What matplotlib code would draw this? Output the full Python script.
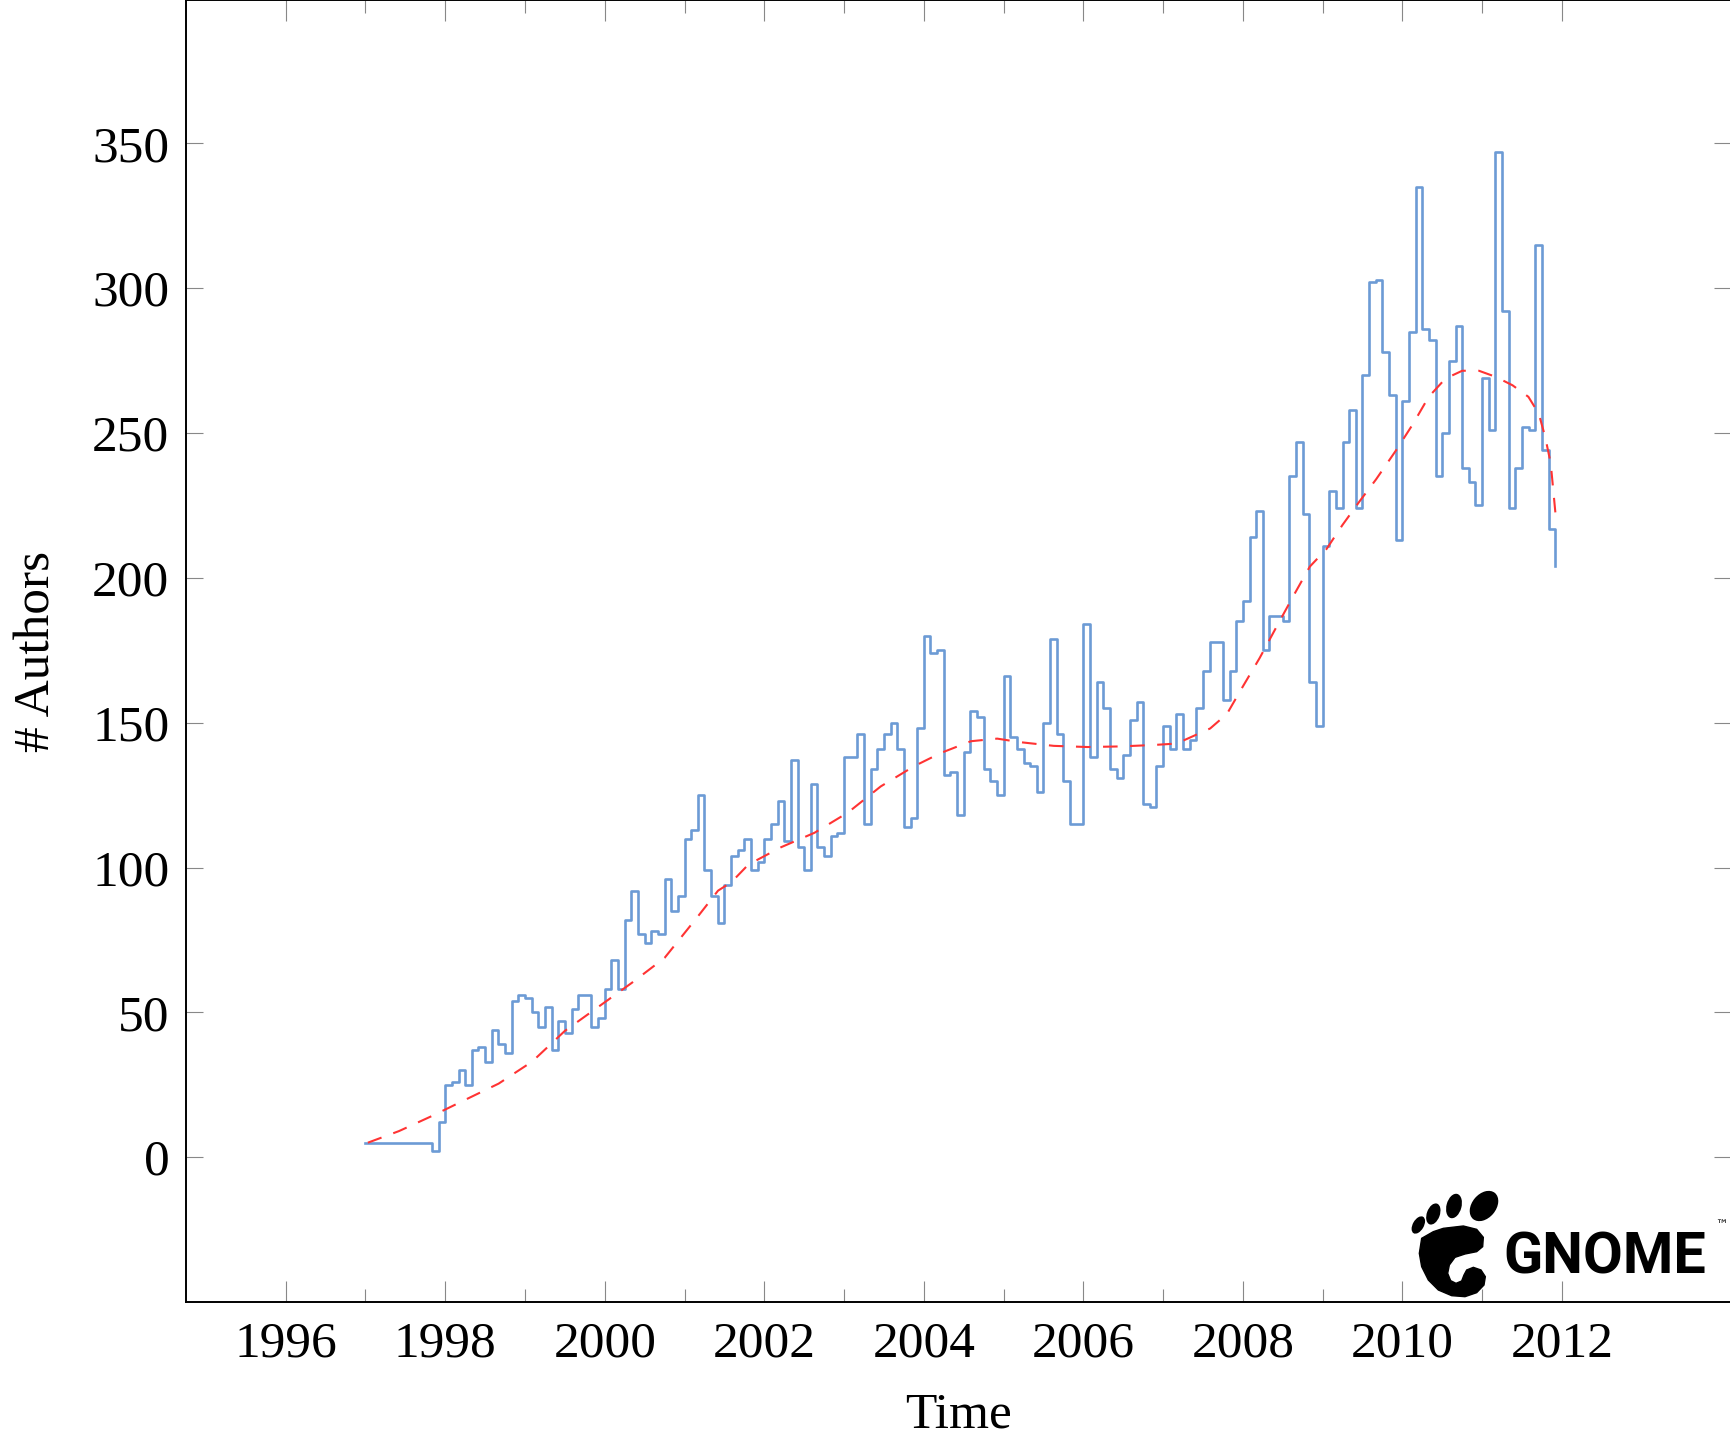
import matplotlib
matplotlib.use('Agg')
import matplotlib.pyplot as plt
from matplotlib.patches import Ellipse, Polygon
import numpy as np

# monthly number of active authors, Jan 1997 .. Dec 2011
authors = [
    5, 5, 5, 5, 5, 5, 5, 5, 5, 5, 2, 12,                    # 1997
    25, 26, 30, 25, 37, 38, 33, 44, 39, 36, 54, 56,         # 1998
    55, 50, 45, 52, 37, 47, 43, 51, 56, 56, 45, 48,         # 1999
    58, 68, 58, 82, 92, 77, 74, 78, 77, 96, 85, 90,         # 2000
    110, 113, 125, 99, 90, 81, 94, 104, 106, 110, 99, 102,  # 2001
    110, 115, 123, 109, 137, 107, 99, 129, 107, 104, 111, 112,  # 2002
    138, 138, 146, 115, 134, 141, 146, 150, 141, 114, 117, 148,  # 2003
    180, 174, 175, 132, 133, 118, 140, 154, 152, 134, 130, 125,  # 2004
    166, 145, 141, 136, 135, 126, 150, 179, 146, 130, 115, 115,  # 2005
    184, 138, 164, 155, 134, 131, 139, 151, 157, 122, 121, 135,  # 2006
    149, 141, 153, 141, 144, 155, 168, 178, 178, 158, 168, 185,  # 2007
    192, 214, 223, 175, 187, 187, 185, 235, 247, 222, 164, 149,  # 2008
    211, 230, 224, 247, 258, 224, 270, 302, 303, 278, 263, 213,  # 2009
    261, 285, 335, 286, 282, 235, 250, 275, 287, 238, 233, 225,  # 2010
    269, 251, 347, 292, 224, 238, 252, 251, 315, 244, 217, 204,  # 2011
]
start_year = 1997

# red dashed trend
trend_year = [1997.03, 1997.42, 1997.84, 1998.25, 1998.67, 1999.09, 1999.5,
              1999.92, 2000.34, 2000.75, 2001.17, 2001.42, 2001.59, 2001.8,
              2002.21, 2002.63, 2003.05, 2003.46, 2003.88, 2004.21, 2004.59,
              2004.92, 2005.2, 2005.63, 2006.05, 2006.46, 2006.88, 2007.17,
              2007.59, 2007.8, 2008.0, 2008.21, 2008.42, 2008.63, 2008.84,
              2009.05, 2009.25, 2009.46, 2009.67, 2009.92, 2010.13, 2010.33,
              2010.54, 2010.75, 2010.96, 2011.17, 2011.38, 2011.58, 2011.71,
              2011.79, 2011.86, 2011.92]
trend_val = [5, 9, 14.3, 19.8, 25.4, 33, 43.6,
             51.9, 60.2, 68.8, 83.2, 92, 95, 101,
             107, 112, 119, 128, 135, 139.5, 143.6,
             144.5, 143.3, 142, 141.6, 141.8, 142.3, 142.8,
             148, 153, 162.5, 172.3, 183, 193.6, 203.9,
             210, 218.3, 226.3, 234, 244, 253, 262.5,
             268.8, 271.5, 271.5, 269.4, 266.5, 262.5, 256.7,
             248.7, 239.5, 222]

major_years = list(range(1996, 2013, 2))
minor_years = list(range(1997, 2012, 2))
y_ticks = list(range(0, 351, 50))

W, H, DPI = 1731, 1437, 100

plt.rcParams['font.family'] = ['Liberation Serif', 'DejaVu Serif']
plt.rcParams['font.size'] = 37

fig = plt.figure(figsize=(W / DPI, H / DPI), dpi=DPI)
fig.patch.set_facecolor('white')
ax = fig.add_axes([186 / W, 135 / H, (W - 186) / W, 1 - 135 / H])

months = start_year + np.arange(len(authors)) / 12.0
ax.step(months, authors, where='post', color='#6c9bd5', linewidth=1.9)
ax.plot(trend_year, trend_val, color='#ff3333', linewidth=1.5, dashes=(7, 6))

ax.set_xlim(1994.75, 2014.12)
ax.set_ylim(-50, 399.5)

ax.set_xticks(major_years)
ax.set_xticks(minor_years, minor=True)
ax.set_yticks(y_ticks)

ax.tick_params(axis='x', which='major', direction='in', length=15, width=0.8,
               color='#888888', top=True, pad=14)
ax.tick_params(axis='x', which='minor', direction='in', length=9.5, width=0.8,
               color='#888888', top=True)
ax.tick_params(axis='y', which='major', direction='in', length=12.5, width=0.8,
               color='#888888', right=True, pad=12)

for side in ['left', 'bottom', 'top']:
    ax.spines[side].set_linewidth(1.4)
    ax.spines[side].set_color('black')
ax.spines['right'].set_visible(False)

ax.set_xlabel('Time')
ax.xaxis.label.set_va('center')
ax.xaxis.set_label_coords(0.5, (1302 - 1415) / 1302)
ax.set_ylabel('# Authors')
ax.yaxis.label.set_va('center')
ax.yaxis.set_label_coords((37 - 186) / (W - 186), 0.5)


def draw_gnome_logo(fig):
    # logo shape sketched in a local grid, mapped to figure pixels
    def px(zx, zy):
        return ((1300 + zx / 3) / DPI, (H - 1150 - zy / 3) / DPI)

    tr = fig.dpi_scale_trans
    toes = [((355, 225), 11, 19, -30),
            ((400, 192), 13, 22, -20),
            ((462, 168), 15, 25, -15),
            ((552, 168), 24, 34, -40)]
    for c, w, h, ang in toes:
        fig.add_artist(Ellipse(px(*c), w / DPI, h / DPI, angle=ang,
                               transform=tr, facecolor='black', edgecolor='none'))
    body = [(365, 265), (400, 245), (430, 235), (490, 228), (530, 238),
            (550, 262), (548, 290), (530, 305), (495, 312), (465, 322),
            (448, 345), (443, 370), (452, 392), (468, 400), (485, 393),
            (492, 375), (500, 360), (520, 352), (543, 360), (556, 380),
            (552, 405), (530, 428), (495, 440), (455, 437), (415, 420),
            (385, 390), (365, 350), (358, 310)]
    fig.add_artist(Polygon([px(*p) for p in body], closed=True, transform=tr,
                           facecolor='black', edgecolor='black', linewidth=1))
    fig.text(1503 / W, 1 - 1273 / H, 'GNOME', ha='left', va='baseline',
             fontsize=41.5, fontweight='bold',
             family=['Liberation Sans Narrow', 'Roboto', 'DejaVu Sans'])
    fig.text(1715 / W, 1 - 1219 / H, '\u2122', ha='left', va='top',
             fontsize=9, family=['DejaVu Sans'])


draw_gnome_logo(fig)

fig.savefig('out.png', dpi=DPI, facecolor='white')
